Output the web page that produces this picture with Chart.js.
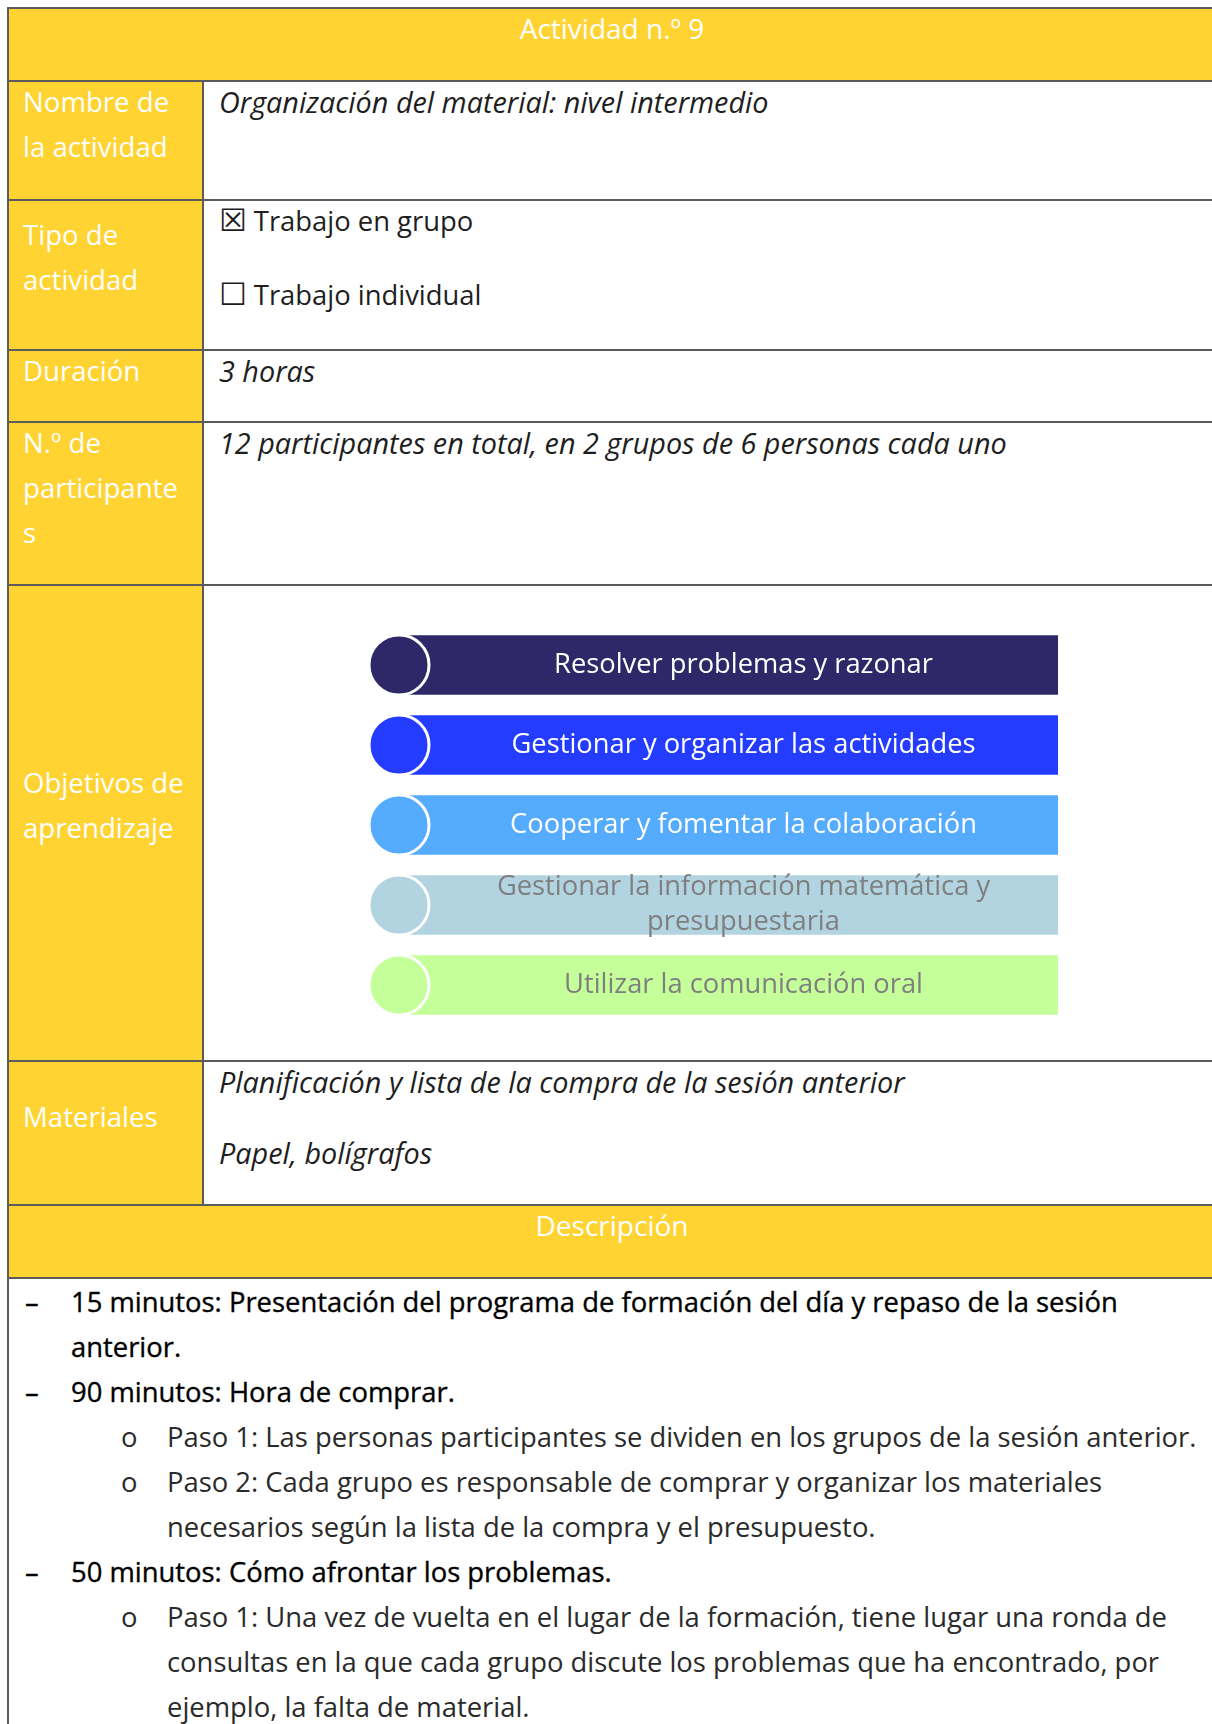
<!DOCTYPE html>
<html lang="es">
<head>
<meta charset="utf-8">
<title>Actividad n.º 9</title>
<script src="https://cdn.jsdelivr.net/npm/chart.js@4.4.1/dist/chart.umd.min.js"></script>
<style>
  html, body { margin: 0; padding: 0; background: #fff; overflow: hidden; }
  body { width: 1212px; height: 1724px; position: relative; font-family: "Open Sans", Lato, sans-serif; font-size: 27.4px; line-height: 45px; color: #1e1e1e; }
  .sheet { position: absolute; left: 7px; top: 7px; width: 1210px; border-collapse: collapse; table-layout: fixed; }
  .sheet td, .sheet th { border: 2px solid #5b5b5b; padding: 0; vertical-align: top; text-align: left; font-weight: normal; }
  .sheet th { background: #ffd332; color: #fff; padding-left: 14px; font-size: 27.6px; }
  .sheet td { padding-left: 15px; }
  .sheet i { font-size: 28.8px; }
  .sheet .band { background: #ffd332; color: #fff; text-align: center; padding: 0; font-size: 28px; }
  .c { margin-top: -3px; }
  .box { font-family: "DejaVu Sans", sans-serif; font-size: 31px; margin-right: 7px; }
  .item { position: relative; padding-left: 62px; color: #000; -webkit-text-stroke: 0.35px #000; }
  .item::before { content: "\2013"; position: absolute; left: 16px; }
  .sub { position: relative; padding-left: 158px; color: #2a2a2a; }
  .sub::before { content: "o"; position: absolute; left: 112px; }
  #chart-wrap { position: absolute; left: 366px; top: 592px; width: 725px; height: 466px; }
</style>
</head>
<body>
<table class="sheet">
  <colgroup><col style="width:195px"><col></colgroup>
  <tr style="height:73px"><td class="band" colspan="2"><div class="c">Actividad n.º 9</div></td></tr>
  <tr style="height:119px"><th><div class="c">Nombre de<br>la actividad</div></th><td><div class="c"><i>Organización del material: nivel intermedio</i></div></td></tr>
  <tr style="height:150px"><th style="padding-top:14px"><div class="c">Tipo de<br>actividad</div></th>
    <td><div class="c"><span class="box">☒</span>Trabajo en grupo</div><div style="margin-top:29px"><span class="box">☐</span>Trabajo individual</div></td></tr>
  <tr style="height:72px"><th><div class="c">Duración</div></th><td><div class="c"><i>3 horas</i></div></td></tr>
  <tr style="height:163px"><th><div class="c">N.º de<br>participante<br>s</div></th><td><div class="c"><i>12 participantes en total, en 2 grupos de 6 personas cada uno</i></div></td></tr>
  <tr style="height:476px"><th style="padding-top:177px"><div class="c">Objetivos de<br>aprendizaje</div></th><td></td></tr>
  <tr style="height:144px"><th style="padding-top:35px"><div class="c">Materiales</div></th>
    <td><div class="c"><i>Planificación y lista de la compra de la sesión anterior</i></div><div style="margin-top:25px"><i>Papel, bolígrafos</i></div></td></tr>
  <tr style="height:73px"><td class="band" colspan="2"><div class="c">Descripción</div></td></tr>
  <tr style="height:480px"><td colspan="2" style="padding-left:0">
    <div class="item">15 minutos: Presentación del programa de formación del día y repaso de la sesión anterior.</div>
    <div class="item">90 minutos: Hora de comprar.</div>
    <div class="sub">Paso 1: Las personas participantes se dividen en los grupos de la sesión anterior.</div>
    <div class="sub">Paso 2: Cada grupo es responsable de comprar y organizar los materiales necesarios según la lista de la compra y el presupuesto.</div>
    <div class="item">50 minutos: Cómo afrontar los problemas.</div>
    <div class="sub">Paso 1: Una vez de vuelta en el lugar de la formación, tiene lugar una ronda de consultas en la que cada grupo discute los problemas que ha encontrado, por ejemplo, la falta de material.</div>
  </td></tr>
</table>

<div id="chart-wrap"><canvas id="objetivos-chart"></canvas></div>

<script>
// Objetivos de aprendizaje (one bar per objective)
const objetivos = [
  'Resolver problemas y razonar',
  'Gestionar y organizar las actividades',
  'Cooperar y fomentar la colaboración',
  ['Gestionar la información matemática y', 'presupuestaria'],
  'Utilizar la comunicación oral'
];
const barLength = [100, 100, 100, 100, 100];
const barColors = ['#2e2869', '#243cff', '#55acff', '#b2d3e0', '#c4ff99'];
const textColors = ['#ffffff', '#ffffff', '#ffffff', '#7f7f7f', '#7f7f7f'];

// draws the objective text inside each bar
const barText = {
  id: 'barText',
  afterDatasetsDraw(chart) {
    const ctx = chart.ctx;
    const meta = chart.getDatasetMeta(1);
    ctx.save();
    ctx.font = '27.3px "Open Sans", Lato, sans-serif';
    ctx.textAlign = 'center';
    ctx.textBaseline = 'middle';
    meta.data.forEach((bar, i) => {
      const lines = Array.isArray(objetivos[i]) ? objetivos[i] : [objetivos[i]];
      // centre on the part of the bar not covered by the circle
      const cx = (bar.base + 30 + bar.x) / 2;
      const lh = 35;
      ctx.fillStyle = textColors[i];
      lines.forEach((line, j) => {
        ctx.fillText(line, cx, bar.y + (j - (lines.length - 1) / 2) * lh);
      });
    });
    ctx.restore();
  }
};

new Chart(document.getElementById('objetivos-chart'), {
  type: 'bar',
  data: {
    labels: objetivos,
    datasets: [
      {
        type: 'scatter',
        data: objetivos.map((_, i) => ({ x: 0, y: i })),
        pointRadius: 30,
        pointHoverRadius: 30,
        pointBackgroundColor: barColors,
        pointBorderColor: '#ffffff',
        pointBorderWidth: 3,
        showLine: false,
        clip: false,
        order: 0
      },
      {
        data: barLength,
        backgroundColor: barColors,
        borderWidth: 0,
        barThickness: 59,
        order: 1
      }
    ]
  },
  options: {
    indexAxis: 'y',
    responsive: true,
    maintainAspectRatio: false,
    animation: false,
    layout: { padding: 0 },
    plugins: { legend: { display: false }, tooltip: { enabled: false } },
    scales: {
      x: { type: 'linear', min: 0, max: 100, display: false },
      y: { type: 'category', display: false, offset: true }
    }
  },
  plugins: [barText]
});
</script>
</body>
</html>
